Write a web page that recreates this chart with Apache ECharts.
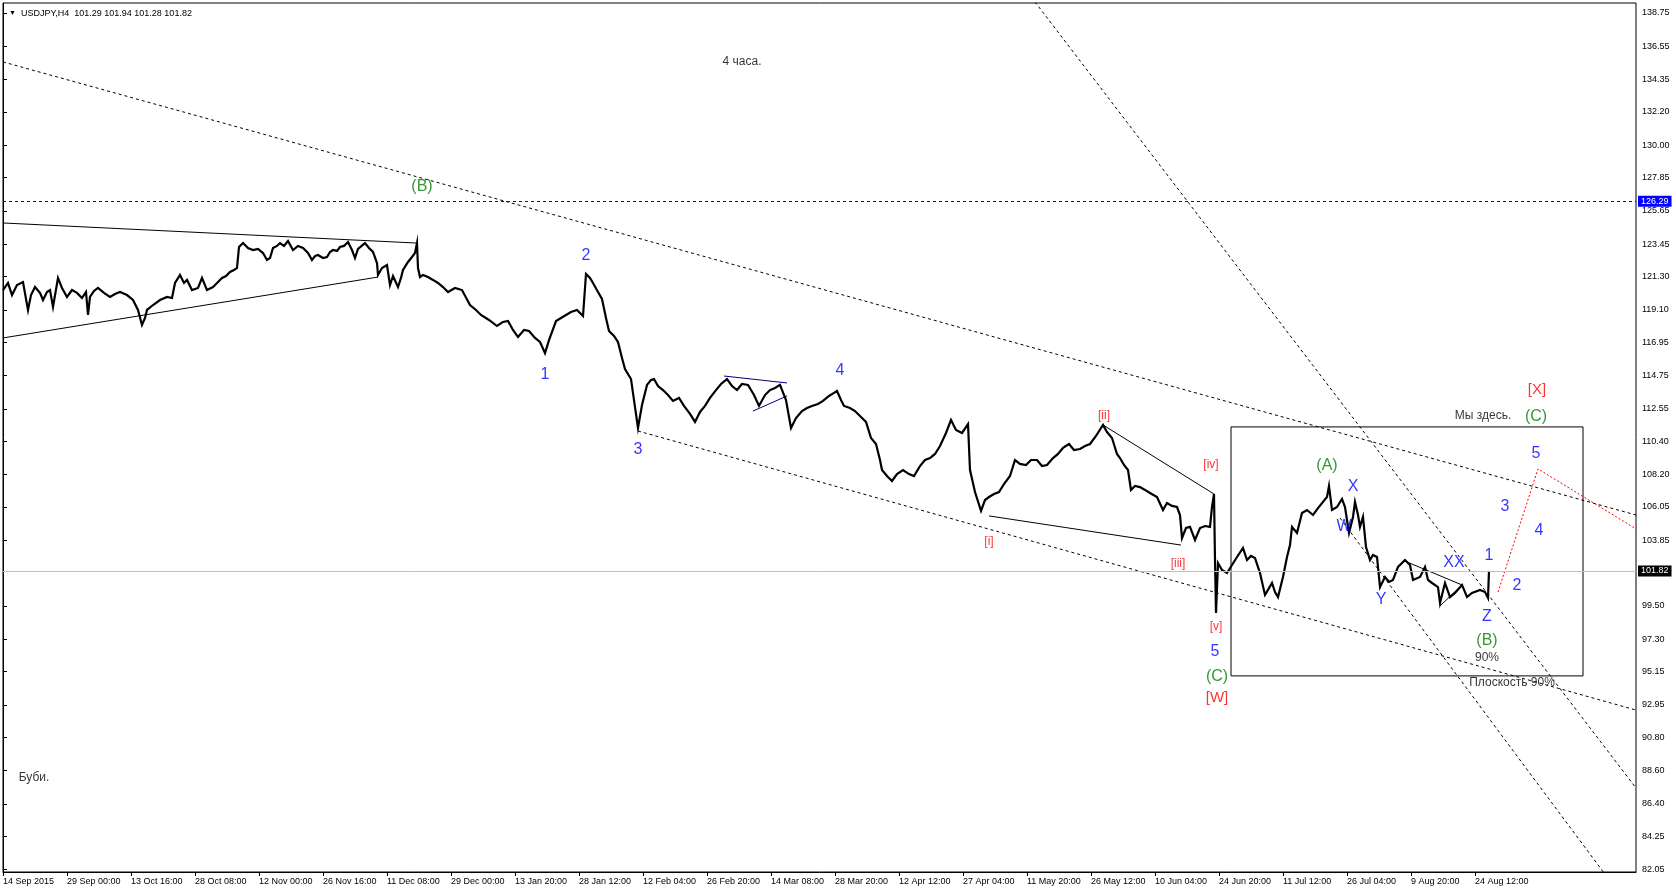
<!DOCTYPE html>
<html><head><meta charset="utf-8">
<script src="https://cdn.jsdelivr.net/npm/echarts/dist/echarts.min.js"></script>
<style>html,body{margin:0;padding:0;background:#fff}#c{width:1676px;height:894px}</style>
</head><body><div id="c"></div><script>
// ---- data (bar index on x, price on y) ----
const dateLabels = ['14 Sep 2015','29 Sep 00:00','13 Oct 16:00','28 Oct 08:00','12 Nov 00:00','26 Nov 16:00','11 Dec 08:00','29 Dec 00:00','13 Jan 20:00','28 Jan 12:00','12 Feb 04:00','26 Feb 20:00','14 Mar 08:00','28 Mar 20:00','12 Apr 12:00','27 Apr 04:00','11 May 20:00','26 May 12:00','10 Jun 04:00','24 Jun 20:00','11 Jul 12:00','26 Jul 04:00','9 Aug 20:00','24 Aug 12:00'];
const dateTickBars = [0,64,128,192,256,320,384,448,512,576,640,704,768,832,896,960,1024,1088,1152,1216,1280,1344,1408,1472];
const priceTicks = [82.05,84.25,86.40,88.60,90.80,92.95,95.15,97.30,99.50,103.85,106.05,108.20,110.40,112.55,114.75,116.95,119.10,121.30,123.45,125.65,127.85,130.00,132.20,134.35,136.55,138.75];
const lastPrice = 101.82;
const markedLevel = 126.29;
const titleText = 'USDJPY,H4  101.29 101.94 101.28 101.82';

const pricePath = [[0,120.41],[5,120.88],[9,120.08],[14,120.74],[20,120.94],[25,119.09],[28,120.08],[32,120.61],[37,120.22],[40,119.75],[44,120.28],[47,120.41],[50,119.29],[55,121.21],[59,120.55],[64,119.95],[69,120.41],[74,120.22],[79,119.88],[83,120.28],[85,118.76],[87,119.95],[91,120.35],[95,120.55],[101,120.22],[107,119.95],[112,120.15],[117,120.28],[124,120.08],[130,119.75],[135,119.09],[139,118.10],[142,118.56],[144,119.09],[150,119.42],[157,119.75],[164,119.95],[169,119.88],[172,120.88],[177,121.41],[181,120.88],[184,121.08],[189,120.41],[195,120.55],[199,121.21],[204,120.41],[210,120.61],[215,120.94],[219,121.21],[223,121.34],[227,121.61],[231,121.74],[234,121.87],[236,123.26],[240,123.52],[245,123.19],[250,123.06],[255,123.13],[260,122.86],[264,122.40],[267,122.53],[270,123.19],[274,123.33],[277,123.52],[281,123.33],[285,123.66],[290,123.06],[295,123.33],[300,123.19],[305,122.86],[309,122.40],[312,122.66],[315,122.73],[320,122.53],[324,122.60],[327,122.93],[330,123.06],[334,123.00],[337,123.26],[341,123.33],[345,123.59],[349,123.06],[352,122.53],[355,123.13],[357,123.26],[362,123.52],[366,123.19],[370,122.93],[374,122.20],[375,121.41],[379,121.87],[384,122.07],[387,120.74],[390,121.34],[392,121.27],[395,120.61],[398,121.21],[400,121.74],[405,122.27],[409,122.60],[412,122.86],[414,123.52],[415,121.87],[417,121.27],[420,121.41],[425,121.27],[430,121.08],[435,120.88],[440,120.61],[445,120.28],
[452,120.55],[459,120.41],[467,119.42],[473,119.09],[478,118.76],[486,118.43],[494,118.03],[500,118.30],[505,118.36],[510,117.77],[515,117.30],[521,117.77],[526,117.70],[532,117.24],[537,116.97],[542,116.24],[546,117.10],[553,118.36],[558,118.56],[563,118.76],[568,118.96],[574,119.09],[580,118.69],[583,121.47],[587,121.21],[590,120.88],[595,120.28],[599,119.82],[603,118.56],[606,117.70],[611,117.37],[615,116.97],[619,115.91],[622,115.18],[628,114.52],[631,113.13],[635,111.28],[639,112.80],[644,114.13],[648,114.46],[651,114.52],[655,114.06],[660,113.79],[665,113.46],[670,113.07],[676,113.27],[681,112.74],[687,112.21],[692,111.68],[697,112.34],[702,112.74],[707,113.27],[713,113.79],[718,114.19],[724,114.52],[729,114.06],[734,113.79],[739,114.19],[745,114.13],[751,113.46],[756,112.74],[762,113.46],[767,113.79],[772,113.93],[777,114.13],[783,113.13],[788,111.28],[793,111.94],[799,112.40],[804,112.60],[809,112.74],[815,112.87],[820,113.07],[826,113.40],[831,113.60],[834,113.73],[838,113.13],[841,112.74],[847,112.60],[852,112.40],[858,112.01],[863,111.68],[868,110.62],[873,110.22],[877,109.16],[879,108.50],[884,108.10],[889,107.77],[894,108.23],[900,108.50],[906,108.23],[911,108.10],[917,108.76],[922,109.16],[927,109.29],[932,109.56],[937,110.09],[943,110.95],[948,111.81],[953,111.15],[959,110.95],[965,111.54],[967,108.50],[972,107.04],[978,105.79],[982,106.51],[986,106.71],[991,106.91],[996,107.04],[1001,107.57],[1007,108.10],[1012,109.16],[1017,108.90],[1023,108.83],[1028,109.16],[1034,109.16],[1039,108.76],[1044,108.83],[1050,109.29],[1055,109.56],[1060,109.96],[1066,110.22],[1071,109.82],[1077,109.89],[1082,110.09],[1087,110.22],[1093,110.75],[1098,111.28],[1100,111.48],[1104,111.01],[1109,110.62],[1114,109.56],[1117,109.29],[1121,108.83],[1125,108.50],[1128,107.18],[1132,107.44],[1137,107.37],[1142,107.18],[1147,106.98],[1154,106.71],[1160,105.85],[1164,106.31],[1169,106.12],[1174,106.05],[1177,105.52],[1179,104.00],[1183,104.66],[1187,104.73],[1192,103.87],[1197,104.66],[1202,104.79],[1207,104.73],[1209,106.05],[1211,106.91],[1212,102.54],[1213,99.03],[1215,102.34],[1219,101.88],[1224,101.68],[1229,102.21],[1234,102.74],[1240,103.34],[1244,102.54],[1248,102.81],[1252,102.67],[1257,101.68],[1262,100.23],[1265,100.56],[1269,101.02],[1272,100.42],[1275,100.09],[1280,101.42],[1284,102.74],[1287,103.53],[1289,104.73],[1294,104.33],[1299,105.65],[1304,105.85],[1310,105.52],[1315,105.98],[1319,106.31],[1324,106.71],[1326,107.44],[1329,105.85],[1334,106.05],[1339,106.58],[1342,106.05],[1346,104.33],[1350,105.39],[1352,106.38],[1355,105.52],[1357,104.73],[1360,105.39],[1363,103.40],[1367,102.54],[1370,102.87],[1374,102.74],[1377,100.75],[1382,101.42],[1386,101.09],[1390,101.22],[1395,102.08],[1402,102.54],[1407,102.21],[1410,101.22],[1417,101.42],[1422,102.08],[1425,101.22],[1429,101.02],[1435,100.75],[1437,99.70],[1442,101.02],[1447,100.09],[1452,100.36],[1459,100.89],[1464,100.09],[1469,100.36],[1477,100.56],[1482,100.42],[1485,100.03],[1486,101.82]];

// trend lines / shapes, as [bar, price] vertices
const solidLines = [
  [[0,124.85],[414,123.52]],
  [[0,117.24],[375,121.27]],
  [[1100,111.48],[1211,106.91]],
  [[986,105.46],[1178,103.53]],
  [[1404,102.41],[1459,100.89]],
  [[1437,99.50],[1459,100.89]],
  [[1228,111.35],[1580,111.35],[1580,94.87],[1228,94.87],[1228,111.35]]
];
const blueLines = [
  [[721,114.72],[784,114.26]],
  [[750,112.40],[784,113.40]]
];
const dashedLines = [
  [[0,135.51],[1633,105.52]],
  [[635,111.08],[1633,92.61]],
  [[1032,139.48],[1633,87.45]],
  [[1337,105.32],[1633,78.98]]
];
const redDotted = [[1495,100.42],[1535,108.57],[1633,104.60]];

// text annotations: [bar, price, text]
const blueMarks = [[542,114.79,'1'],[583,122.66,'2'],[635,109.82,'3'],[837,115.05,'4'],[1212,96.45,'5'],[1350,107.37,'X'],[1341,104.73,'W'],[1378,99.89,'Y'],[1451,102.34,'XX'],[1486,102.81,'1'],[1514,100.82,'2'],[1484,98.77,'Z'],[1502,106.05,'3'],[1536,104.46,'4'],[1533,109.56,'5']];
const greenMarks = [[419,127.23,'(B)'],[1214,94.80,'(C)'],[1324,108.76,'(A)'],[1484,97.18,'(B)'],[1533,112.01,'(C)']];
const redSmall = [[986,103.73,'[i]'],[1101,112.07,'[ii]'],[1175,102.28,'[iii]'],[1208,108.83,'[iv]'],[1213,98.11,'[v]']];
const redBig = [[1214,93.41,'[W]'],[1534,113.79,'[X]']];
const notes = [[739,135.51,'4 часа.'],[1480,112.07,'Мы здесь.'],[1484,96.06,'90%'],[1509,94.40,'Плоскость 90%'],[31,88.11,'Буби.']];

// ---- chart ----
const FONT = '"Liberation Sans", Arial, sans-serif';
const chart = echarts.init(document.getElementById('c'), null, {renderer:'canvas'});

function lineSeries(points, style, z) {
  return {type:'line', data: points, symbol:'none', showSymbol:false, silent:true,
    lineStyle: style, z: z || 3, animation:false, clip:true};
}
function textSeries(items, color, size) {
  return {type:'scatter', data: items, symbolSize: 1, silent:true, z: 6, animation:false,
    itemStyle:{color:'rgba(0,0,0,0)'},
    label:{show:true, position:'inside', formatter: p => p.data[2], color: color,
      fontSize: size, fontFamily: FONT}};
}

const series = [];
series.push({
  type:'line', data: pricePath, symbol:'none', showSymbol:false, silent:true, z:4,
  lineStyle:{color:'#000', width:2.2, join:'miter'}, animation:false,
  markLine:{silent:true, symbol:['none','none'], animation:false,
    data:[
      {yAxis: markedLevel, lineStyle:{color:'#0000ff', type:[3,3], width:1},
        label:{show:true, position:'end', distance:2, formatter: markedLevel.toFixed(2), color:'#fff',
          backgroundColor:'#0000ff', padding:[1,3,1,3], fontSize:9, fontFamily:FONT}},
      {yAxis: lastPrice, lineStyle:{color:'#c0c0c0', type:'solid', width:1},
        label:{show:true, position:'end', distance:2, formatter: lastPrice.toFixed(2), color:'#fff',
          backgroundColor:'#000', padding:[1,3,1,3], fontSize:9, fontFamily:FONT}}
    ]}
});
solidLines.forEach(s => series.push(lineSeries(s, {color:'#000', width:1})));
blueLines.forEach(s => series.push(lineSeries(s, {color:'#000080', width:1})));
dashedLines.forEach(s => series.push(lineSeries(s, {color:'#000', width:1, type:[3,3]})));
series.push(lineSeries(redDotted, {color:'#ff0000', width:1, type:[2,2]}));
series.push(textSeries(blueMarks, '#0000ff', 16));
series.push(textSeries(greenMarks, '#008000', 16));
series.push(textSeries(redSmall, '#ff0000', 12));
series.push(textSeries(redBig, '#ff0000', 15));
series.push(textSeries(notes, '#000', 12));

chart.setOption({
  animation:false,
  backgroundColor:'#fff',
  title:{text:'{t|▼}  ' + titleText, left:4, top:4,
    textStyle:{fontSize:9, fontWeight:'normal', color:'#000', fontFamily:FONT,
      rich:{t:{fontSize:7, color:'#000'}}}},
  grid:{left:3, top:3, right:40, bottom:22, show:true, borderColor:'#000', borderWidth:1, backgroundColor:'#fff'},
  xAxis:{type:'value', min:0, max:1633,
    axisLine:{show:true, lineStyle:{color:'#000'}},
    axisTick:{show:true, length:4, customValues: dateTickBars, lineStyle:{color:'#000'}},
    axisLabel:{customValues: dateTickBars, formatter: v => dateLabels[dateTickBars.indexOf(Math.round(v))] || '',
      align:'left', fontSize:9, margin:5, color:'#000', fontFamily:FONT},
    splitLine:{show:false}},
  yAxis:{type:'value', position:'right', min:81.89, max:139.41, scale:true,
    axisLine:{show:true, lineStyle:{color:'#000'}},
    axisTick:{show:true, length:4, customValues: priceTicks, lineStyle:{color:'#000'}},
    axisLabel:{customValues: priceTicks, formatter: v => v.toFixed(2), fontSize:9, margin:6, color:'#000', fontFamily:FONT},
    splitLine:{show:false}},
  series: series
});
</script></body></html>
